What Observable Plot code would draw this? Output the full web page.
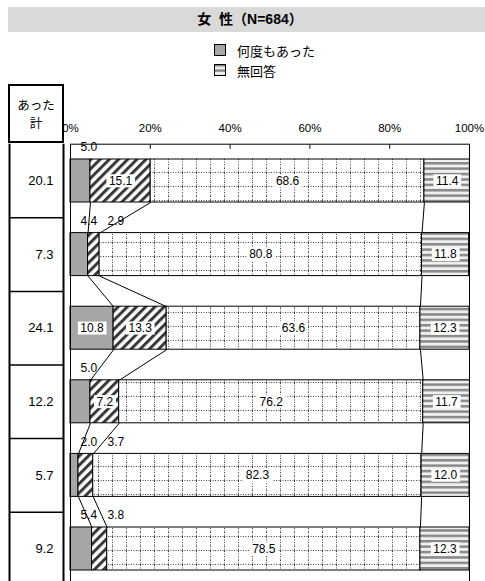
<!DOCTYPE html>
<html><head><meta charset="utf-8">
<script src="https://cdn.jsdelivr.net/npm/d3@7"></script>
<script src="https://cdn.jsdelivr.net/npm/@observablehq/plot@0.6"></script>
<style>
html,body{margin:0;padding:0;overflow:hidden;background:#fff;}
body{font-family:"Liberation Sans","Noto Sans CJK JP",sans-serif;color:#000;}
#wrap{position:relative;width:485px;height:581px;overflow:hidden;}
.layer{position:absolute;left:0;top:0;}
#title{position:absolute;left:8px;top:7px;width:477px;height:25px;background:#d9d9d9;font-weight:bold;font-size:14px;line-height:25px;text-align:center;padding-left:7px;box-sizing:border-box;}
#legend{position:absolute;left:214px;top:40px;font-size:13px;}
.li{display:flex;align-items:center;height:20px;}
.li svg{margin-right:11px;display:block}
#hdr{position:absolute;left:8px;top:84px;width:56px;height:59px;box-sizing:border-box;border:2px solid #000;background:#fff;font-size:12.5px;font-family:"Noto Sans CJK JP",sans-serif;}
#hdr div{position:absolute;left:0;width:100%;text-align:center;height:14px;line-height:14px;}
</style></head>
<body>
<svg width="0" height="0" style="position:absolute">
<defs>
<pattern id="pGrey" patternUnits="userSpaceOnUse" width="4" height="4"><rect width="4" height="4" fill="#a6a6a6"/></pattern>
<pattern id="pDiag" patternUnits="userSpaceOnUse" width="6.5" height="10" patternTransform="rotate(45)">
  <rect width="6.5" height="10" fill="#fff"/>
  <rect x="0" y="0" width="3" height="10" fill="#383838"/>
</pattern>
<pattern id="pDots" patternUnits="userSpaceOnUse" width="14" height="14">
  <rect width="14" height="14" fill="#fff"/>
  <line x1="0.5" y1="0" x2="0.5" y2="14" stroke="#444" stroke-width="1" stroke-dasharray="1,1.5"/>
  <line x1="0" y1="4.5" x2="14" y2="4.5" stroke="#444" stroke-width="1" stroke-dasharray="1,1.5"/>
</pattern>
<pattern id="pHoriz" patternUnits="userSpaceOnUse" width="4" height="5.4">
  <rect width="4" height="5.4" fill="#f0f0f0"/>
  <rect y="0" width="4" height="2.5" fill="#888888"/>
</pattern>
</defs>
</svg>
<div id="wrap">
  <div id="title">女&nbsp;&nbsp;性（N=684）</div>
  <div id="legend"></div>
</div>
<script>
// ---- data ----
const seriesNames = ["何度もあった", "1、2度あった", "まったくない", "無回答"];
const often      = [5.0, 4.4, 10.8, 5.0, 2.0, 5.4];
const onceTwice  = [15.1, 2.9, 13.3, 7.2, 3.7, 3.8];
const never      = [68.6, 80.8, 63.6, 76.2, 82.3, 78.5];
const noAnswer   = [11.4, 11.8, 12.3, 11.7, 12.0, 12.3];
const totals     = [20.1, 7.3, 24.1, 12.2, 5.7, 9.2];
const totalHeader = ["あった", "計"];
const tickValues = [0, 20, 40, 60, 80, 100];
const legendShown = [0, 3];

const series = [often, onceTwice, never, noAnswer];
const fills = ["url(#pGrey)", "url(#pDiag)", "url(#pDots)", "url(#pHoriz)"];
const FONT = '"Liberation Sans","Noto Sans CJK JP",sans-serif';
const rows = often.map((_, i) => i);
const h = 43 / 73.6 / 2; // half bar thickness (row units)
const threshold = 6;

// cumulative segments
const segs = [];
const cum = rows.map(i => {
  let c = 0; const b = [0];
  series.forEach((s, k) => { segs.push({row: i, k, v: s[i], x1: c, x2: c + s[i]}); c += s[i]; b.push(c); });
  return b;
});
const conns = [];
rows.slice(0, -1).forEach(i => {
  [1, 2, 3].forEach(k => conns.push({x1: cum[i][k], x2: cum[i + 1][k], y1: i + h, y2: i + 1 - h}));
});
const inside = segs.filter(d => d.v >= threshold);
const out1 = segs.filter(d => d.v < threshold && d.k === 0);
const out2 = segs.filter(d => d.v < threshold && d.k === 1);

const segMarks = series.map((s, k) => Plot.rect(segs.filter(d => d.k === k), {
  x1: "x1", x2: "x2", y1: d => d.row - h, y2: d => d.row + h,
  fill: fills[k], stroke: "#000", strokeWidth: 1
}));

const main = Plot.plot({
  width: 485, height: 600,
  marginLeft: 70, marginRight: 16, marginTop: 143.7, marginBottom: 14.7,
  x: {domain: [0, 100]},
  y: {domain: [-0.5, 5.5], reverse: true, axis: null},
  style: {background: "transparent", fontFamily: FONT, color: "#000"},
  marks: [
    ...segMarks,
    Plot.link(conns, {x1: "x1", x2: "x2", y1: "y1", y2: "y2", stroke: "#000", strokeWidth: 1}),
    Plot.frame({stroke: "#000"}),
    Plot.axisX({anchor: "top", ticks: tickValues, tickFormat: d => d + "%", tickSize: -4, tickPadding: 16, fontSize: 11.5, fontFamily: FONT}),
    Plot.text(out1, {x: () => 0, y: d => d.row - h, dy: -12, dx: 10, textAnchor: "start", text: d => d.v.toFixed(1), fontSize: 12, fill: "#000"}),
    Plot.text(out2, {x: () => 0, y: d => d.row - h, dy: -12, dx: 37, textAnchor: "start", text: d => d.v.toFixed(1), fontSize: 12, fill: "#000"}),
    Plot.text(inside, {x: d => (d.x1 + d.x2) / 2, y: "row", text: d => d.v.toFixed(1), fontSize: 12, fill: "#000"})
  ]
});
main.classList.add("layer");
const wrap = document.getElementById("wrap");
wrap.insertBefore(main, wrap.firstChild);
// white label boxes behind the inside labels (last text group)
const textGroups = main.querySelectorAll('g[aria-label="text"]');
const boxedGroup = textGroups[textGroups.length - 1];
boxedGroup.querySelectorAll("text").forEach(t => {
  const b = t.getBBox();
  const r = document.createElementNS("http://www.w3.org/2000/svg", "rect");
  r.setAttribute("x", b.x - 2.5); r.setAttribute("y", b.y + 0.5);
  r.setAttribute("width", b.width + 5); r.setAttribute("height", b.height - 1);
  r.setAttribute("fill", "#fff");
  if (t.getAttribute("transform")) r.setAttribute("transform", t.getAttribute("transform"));
  t.parentNode.insertBefore(r, t);
});

const tbl = Plot.plot({
  width: 70, height: 600,
  marginLeft: 9, marginRight: 7, marginTop: 143.7, marginBottom: 14.7,
  x: {domain: [0, 1], axis: null},
  y: {domain: [-0.5, 5.5], reverse: true, axis: null},
  style: {background: "transparent", fontFamily: FONT, color: "#000"},
  marks: [
    Plot.ruleY(rows.slice(1), {y: i => i - 0.5, stroke: "#000", strokeWidth: 1.5}),
    Plot.ruleX([0, 1], {x: d => d, stroke: "#000", strokeWidth: 2}),
    Plot.text(totals, {x: () => 1, y: (d, i) => i, dx: -10, textAnchor: "end", text: d => d.toFixed(1), fontSize: 13, fill: "#000"})
  ]
});
tbl.classList.add("layer");
wrap.appendChild(tbl);

const hdr = document.createElement("div");
hdr.id = "hdr";
hdr.innerHTML = `<div style="top:11.5px">${totalHeader[0]}</div><div style="top:30px">${totalHeader[1]}</div>`;
wrap.appendChild(hdr);

// legend
const leg = document.getElementById("legend");
legendShown.forEach(k => {
  const row = document.createElement("div");
  row.className = "li";
  row.innerHTML = `<svg width="12" height="12"><rect x="0.5" y="0.5" width="11" height="11" fill="${fills[k]}" stroke="#000"/></svg><span style="font-family:'Noto Sans CJK JP',sans-serif">${seriesNames[k]}</span>`;
  leg.appendChild(row);
});
</script>
</body></html>
